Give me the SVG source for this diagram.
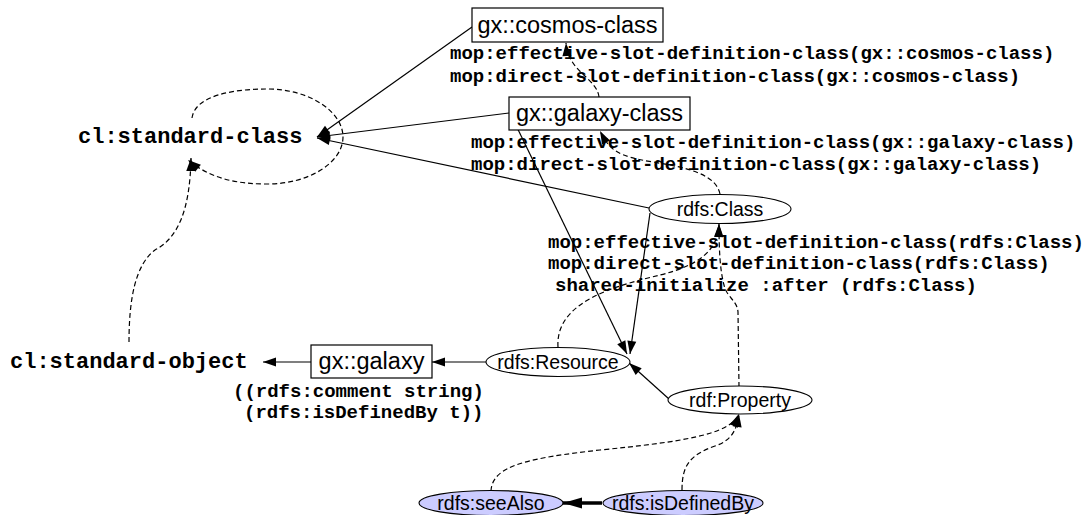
<svg xmlns="http://www.w3.org/2000/svg" width="1090" height="515" viewBox="0 0 1090 515">
<style>
.bg{fill:#ffffff}
.box{fill:#ffffff;stroke:#000;stroke-width:1.2}
.ell{fill:#ffffff;stroke:#000;stroke-width:1.1}
.ellb{fill:#ccccff;stroke:#000;stroke-width:1.1}
.nt{font-family:"Liberation Sans",Arial,sans-serif;font-size:23.5px;fill:#000;text-anchor:middle}
.et{font-family:"Liberation Sans",Arial,sans-serif;font-size:19.5px;fill:#000;text-anchor:middle}
.pt{font-family:"Liberation Mono","Courier New",monospace;font-size:22px;font-weight:bold;fill:#000}
.lb{font-family:"Liberation Mono","Courier New",monospace;font-size:19px;font-weight:bold;fill:#000}
.e{fill:none;stroke:#000;stroke-width:1.2;marker-end:url(#ah)}
.d{fill:none;stroke:#000;stroke-width:1.2;stroke-dasharray:5,3;marker-end:url(#ah)}
.dn{fill:none;stroke:#000;stroke-width:1.2;stroke-dasharray:5,3}
.bold{fill:none;stroke:#000;stroke-width:3.5;marker-end:url(#ahb)}
</style>
<defs>
<marker id="ah" markerUnits="userSpaceOnUse" markerWidth="14" markerHeight="10" refX="13" refY="4.5" orient="auto" overflow="visible">
<path d="M0,0 L13,4.5 L0,9 z" fill="#000" stroke="none"/>
</marker>
<marker id="ahb" markerUnits="userSpaceOnUse" markerWidth="20" markerHeight="12" refX="19" refY="5.5" orient="auto" overflow="visible">
<path d="M0,0 L19,5.5 L0,11 z" fill="#000" stroke="none"/>
</marker>
</defs>
<rect class="bg" x="0" y="0" width="1090" height="515"/>

<g id="connectors">
<path class="e" d="M472,27 L317,137"/>
<path class="e" d="M509,113 L317,137"/>
<path class="e" d="M649,208 L317,138"/>
<path class="e" d="M510,113 L627,354"/>
<path class="e" d="M650,213 L630,354"/>
<path class="e" d="M669,399 L629,363"/>
<path class="e" d="M487,362 L432,362"/>
<path class="e" d="M311,362 L263,362"/>
<path class="bold" d="M602,503 L563,503"/>
<path class="d" d="M599,97 C597,78 568,72 566,43"/>
<path class="d" d="M720,194 C716,175 690,168 653,162 S610,150 600,131"/>
<path class="d" d="M558,347 C555,300 620,285 660,275 C700,265 718,250 719,224"/>
<path class="d" d="M739,387 L738,312 C737,300 727,298 724,285 C720,270 719,250 719,224"/>
<path class="d" d="M491,491 C492,465 530,458 600,450 C680,442 730,435 739,414"/>
<path class="d" d="M682,490 C682,465 690,455 715,446 C733,440 737,428 739,414"/>
<path class="d" d="M129,342 C129,300 135,265 155,250 C178,238 190,210 191,158"/>
<path class="d" d="M192,118 C195,95 235,89 267,89 C310,89 343,112 343,137 C343,162 310,184 267,184 C235,184 210,178 188,160"/>
</g>

<g id="labels">
<text class="lb" x="450" y="59">mop:effective-slot-definition-class(gx::cosmos-class)</text>
<text class="lb" x="450" y="82">mop:direct-slot-definition-class(gx::cosmos-class)</text>
<text class="lb" x="471" y="148">mop:effective-slot-definition-class(gx::galaxy-class)</text>
<text class="lb" x="471" y="170">mop:direct-slot-definition-class(gx::galaxy-class)</text>
<text class="lb" x="548" y="248">mop:effective-slot-definition-class(rdfs:Class)</text>
<text class="lb" x="548" y="269">mop:direct-slot-definition-class(rdfs:Class)</text>
<text class="lb" x="555" y="291">shared-initialize :after (rdfs:Class)</text>
<text class="lb" x="233" y="397">((rdfs:comment string)</text>
<text class="lb" x="244" y="418">(rdfs:isDefinedBy t))</text>
</g>

<g id="cl-standard-class"><text class="pt" x="78" y="143">cl:standard-class</text></g>
<g id="cl-standard-object"><text class="pt" x="10" y="368">cl:standard-object</text></g>
<g id="gx-cosmos-class"><rect class="box" x="472" y="8" width="191" height="34"/><text class="nt" x="567.5" y="33">gx::cosmos-class</text></g>
<g id="gx-galaxy-class"><rect class="box" x="509" y="97" width="181" height="33"/><text class="nt" x="599.5" y="121">gx::galaxy-class</text></g>
<g id="gx-galaxy"><rect class="box" x="311" y="345" width="121" height="33"/><text class="nt" x="371.5" y="369">gx::galaxy</text></g>
<g id="rdfs-Class"><ellipse class="ell" cx="720" cy="209" rx="71" ry="14.5"/><text class="et" x="720" y="215.5">rdfs:Class</text></g>
<g id="rdfs-Resource"><ellipse class="ell" cx="558" cy="362" rx="72" ry="14.5"/><text class="et" x="558" y="368.5">rdfs:Resource</text></g>
<g id="rdf-Property"><ellipse class="ell" cx="740" cy="400" rx="72" ry="14"/><text class="et" x="740" y="406.5">rdf:Property</text></g>
<g id="rdfs-seeAlso"><ellipse class="ellb" cx="491" cy="503" rx="72" ry="12.5"/><text class="et" x="491" y="509.5">rdfs:seeAlso</text></g>
<g id="rdfs-isDefinedBy"><ellipse class="ellb" cx="683" cy="503" rx="80" ry="12.5"/><text class="et" x="683" y="509.5">rdfs:isDefinedBy</text></g>
</svg>
